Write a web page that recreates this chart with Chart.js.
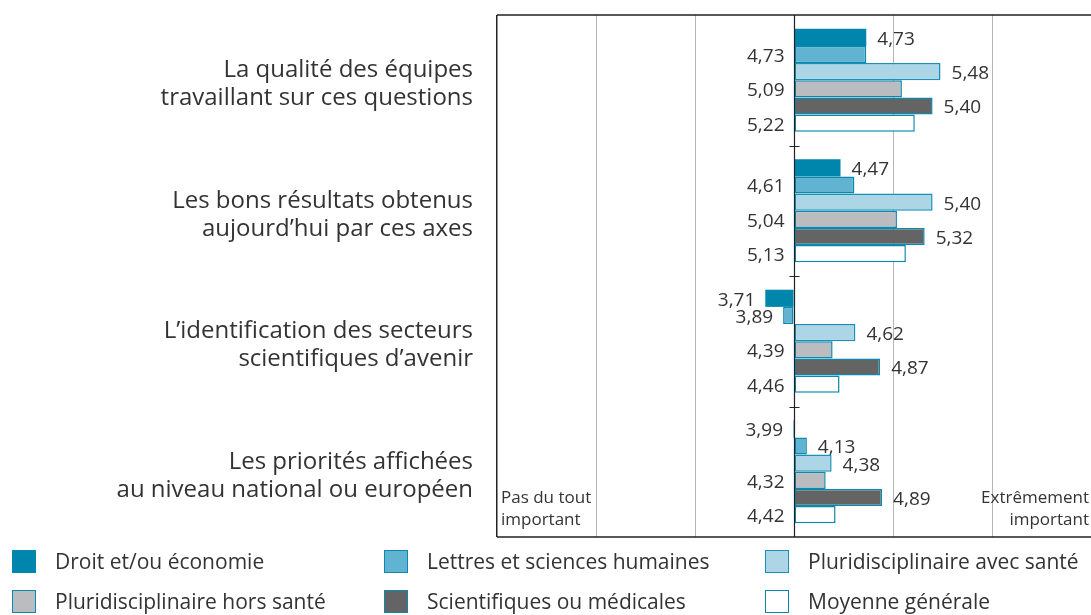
<!DOCTYPE html>
<html><head><meta charset="utf-8">
<script src="https://cdn.jsdelivr.net/npm/chart.js@4.4.1/dist/chart.umd.min.js"></script>
<style>
html,body{margin:0;padding:0;background:#fff;}
#wrap{position:relative;width:1091px;height:615px;overflow:hidden;}
canvas{position:absolute;left:0;top:0;}
.leg{position:absolute;font-family:"Open Sans","Noto Sans",sans-serif;font-size:21px;color:#333;white-space:nowrap;}
.leg span.sw{position:absolute;left:0;top:0;width:24px;height:23px;box-sizing:border-box;}
.leg span.tx{position:absolute;left:43px;top:-3px;line-height:28px;}
.note{position:absolute;font-family:"Open Sans","Noto Sans",sans-serif;font-size:17px;color:#333;line-height:22px;}
</style></head>
<body><div id="wrap"><canvas id="c" width="1091" height="615"></canvas></div>
<script>
const categories = [
  ["La qualité des équipes", "travaillant sur ces questions"],
  ["Les bons résultats obtenus", "aujourd’hui par ces axes"],
  ["L’identification des secteurs", "scientifiques d’avenir"],
  ["Les priorités affichées", "au niveau national ou européen"]
];
const seriesNames = ["Droit et/ou économie","Lettres et sciences humaines","Pluridisciplinaire avec santé","Pluridisciplinaire hors santé","Scientifiques ou médicales","Moyenne générale"];
const droit      = [4.73, 4.47, 3.71, 3.99];
const lettres    = [4.73, 4.61, 3.89, 4.13];
const pluriAvec  = [5.48, 5.40, 4.62, 4.38];
const pluriHors  = [5.09, 5.04, 4.39, 4.32];
const scient     = [5.40, 5.32, 4.87, 4.89];
const moyenne    = [5.22, 5.13, 4.46, 4.42];
const scaleMin = 1, scaleMax = 7, baseValue = 4;

const fills   = ["#0086ac","#60b3d1","#acd5e6","#bbbcbf","#646464","#ffffff"];
const borders = ["#0086ac","#0a88ae","#1a8fb8","#0a88ae","#0a88ae","#0a88ae"];
const seriesData = [droit, lettres, pluriAvec, pluriHors, scient, moyenne];
const FONT = '"Open Sans", "Noto Sans", sans-serif';

const datasets = seriesData.map((d,i)=>({
  label: seriesNames[i], data: d, base: baseValue,
  backgroundColor: fills[i], borderColor: borders[i], borderWidth: i===0?0:1.5,
  borderSkipped: false,
  categoryPercentage: 0.79, barPercentage: 1.0
}));

const fmt = v => v.toFixed(2).replace('.', ',');

const decor = {
  id:'decor',
  afterDatasetsDraw(chart){
    const ctx = chart.ctx, a = chart.chartArea, xs = chart.scales.x, ys = chart.scales.y;
    const ax = Math.round(xs.getPixelForValue(baseValue)) + 0.5;
    ctx.save();
    ctx.strokeStyle = '#222'; ctx.lineWidth = 1.5;
    ctx.beginPath();
    ctx.moveTo(a.left, a.top); ctx.lineTo(a.right, a.top);
    ctx.moveTo(a.left, a.bottom); ctx.lineTo(a.right, a.bottom);
    ctx.stroke();
    ctx.lineWidth = 1.2;
    ctx.beginPath(); ctx.moveTo(ax, a.top); ctx.lineTo(ax, a.bottom); ctx.stroke();
    ctx.beginPath();
    for (let i=0;i<categories.length-1;i++){
      const y = Math.round((ys.getPixelForValue(i)+ys.getPixelForValue(i+1))/2)+0.5;
      ctx.moveTo(ax-5, y); ctx.lineTo(ax+5, y);
    }
    ctx.stroke();
    ctx.fillStyle = '#333'; ctx.font = '19px ' + FONT; ctx.textBaseline = 'middle';
    const n = categories.length;
    for (let j=0;j<n;j++){
      let prevSide = 'R';
      chart.data.datasets.forEach((ds, di)=>{
        const bar = chart.getDatasetMeta(di).data[j];
        const v = ds.data[j];
        const y = bar.y + 2;
        const endX = xs.getPixelForValue(v);
        let side;
        if (v < baseValue) side = 'L';
        else if (di % 2 === 0) side = 'R';
        else side = prevSide === 'L' ? 'R' : 'L';
        if (side === 'R') {
          ctx.textAlign = 'left';
          ctx.fillText(fmt(v), endX + 11, y);
        } else {
          ctx.textAlign = 'right';
          ctx.fillText(fmt(v), Math.min(endX, ax) - 10, y);
        }
        prevSide = side;
      });
    }
    ctx.restore();
  }
};

new Chart(document.getElementById('c'), {
  type: 'bar',
  data: { labels: categories, datasets },
  options: {
    indexAxis: 'y', responsive: false, animation: false,
    layout: { padding: { top: 15, bottom: 78, left: 0, right: 0 } },
    plugins: { legend: { display: false }, tooltip: { enabled: false } },
    scales: {
      x: {
        min: scaleMin, max: scaleMax,
        ticks: { display: false, stepSize: 1 },
        border: { display: false },
        grid: {
          drawTicks: false,
          color: c => c.tick.value === scaleMin ? '#222' : (c.tick.value === scaleMax || c.tick.value === baseValue ? 'rgba(0,0,0,0)' : '#b5b5b5'),
          lineWidth: c => c.tick.value === scaleMin ? 1.5 : 1
        },
        afterFit: s => { s.height = 0; }
      },
      y: {
        offset: true,
        border: { display: false },
        grid: { display: false, drawTicks: false },
        ticks: { padding: 24, color: '#333', font: { family: FONT, size: 24, lineHeight: 1.17 }, labelOffset: 4 },
        afterFit: s => { s.width = 497; s.paddingTop = 0; s.paddingBottom = 0; }
      }
    }
  },
  plugins: [decor]
});

const wrap = document.getElementById('wrap');
const legPos = [[12,550],[384,550],[765,550],[12,590],[384,590],[765,590]];
seriesNames.forEach((n,i)=>{
  const d = document.createElement('div');
  d.className = 'leg';
  d.style.left = legPos[i][0]+'px'; d.style.top = legPos[i][1]+'px';
  d.innerHTML = '<span class="sw" style="background:'+fills[i]+';border:1.5px solid '+borders[i]+'"></span><span class="tx">'+n+'</span>';
  wrap.appendChild(d);
});
const n1 = document.createElement('div'); n1.className='note';
n1.style.left='501px'; n1.style.top='486px'; n1.innerHTML='Pas du tout<br>important'; wrap.appendChild(n1);
const n2 = document.createElement('div'); n2.className='note';
n2.style.right='2px'; n2.style.top='486px'; n2.style.textAlign='right'; n2.innerHTML='Extrêmement<br>important'; wrap.appendChild(n2);
</script></body></html>
